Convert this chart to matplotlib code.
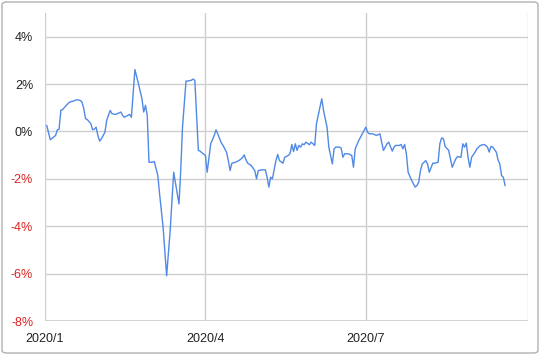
import matplotlib
matplotlib.use('Agg')
import matplotlib.pyplot as plt
from matplotlib.patches import FancyBboxPatch
import pandas as pd

# days after 2020-01-01 and daily change in %
days = [1, 3, 6, 7, 8, 9, 10, 12, 14, 16, 18, 20, 21, 22, 23, 24, 26, 27, 28, 29,
        30, 31, 32, 34, 35, 37, 38, 40, 41, 43, 44, 45, 47, 48, 49, 51,
        53, 55, 56, 57, 58, 59, 61, 62, 64, 65, 67, 69, 71, 73, 76, 77, 78, 80,
        81, 83, 84, 85, 87, 88, 89, 91, 92,
        94, 96, 97, 98, 100, 101, 103, 104, 105, 106, 108, 110, 112, 113, 114, 115,
        117, 119, 120, 121, 123, 125, 126, 127, 128, 129, 130, 131, 132, 133, 135,
        136, 138, 139,
        140, 141, 142, 143, 144, 145, 146, 147, 148, 150, 151, 153, 154, 155, 157,
        158, 160, 161, 163, 164, 165, 167, 168, 169, 170, 172, 174, 175, 176, 178,
        180, 182, 183, 184, 186, 188, 190,
        192, 194, 195, 197, 198, 199, 201, 202, 203, 204, 205, 206, 208, 210, 211,
        212, 213, 214, 216, 217, 218, 220, 221, 223, 224, 225, 226, 227, 229, 230,
        231, 233, 234, 236, 237, 238, 239, 240, 241, 242, 244, 245, 247, 249, 250,
        251, 252, 253, 254, 256, 257, 258, 259, 260, 261]
pct = [0.25, -0.35, -0.17, 0.07, 0.10, 0.90, 0.92, 1.10, 1.24, 1.28, 1.34, 1.31, 1.24, 0.96, 0.54, 0.50, 0.33, 0.07, 0.10, 0.18,
       -0.17, -0.41, -0.31, -0.03, 0.47, 0.89, 0.75, 0.72, 0.75, 0.82, 0.68, 0.60, 0.68, 0.72, 0.60, 2.61,
       2.02, 1.38, 0.82, 1.10, 0.68, -1.30, -1.30, -1.27, -1.86, -2.63, -4.05, -6.09, -4.19, -1.72, -3.06, -1.65, 0.18, 2.13,
       2.13, 2.16, 2.21, 2.16, -0.80, -0.83, -0.90, -1.01, -1.72,
       -0.52, -0.17, 0.07, -0.10, -0.48, -0.59, -0.88, -1.23, -1.65, -1.34, -1.30, -1.23, -1.11, -0.99, -1.20, -1.34,
       -1.44, -1.65, -2.00, -1.65, -1.62, -1.62, -1.93, -2.35, -1.93, -2.00, -1.62, -1.23, -0.97, -1.23, -1.34,
       -1.09, -1.01, -0.94,
       -0.55, -0.85, -0.52, -0.80, -0.59, -0.66, -0.52, -0.56, -0.45, -0.56, -0.45, -0.59, 0.33, 0.68, 1.38,
       0.89, 0.18, -0.66, -1.37, -0.73, -0.66, -0.66, -0.70, -1.09, -0.94, -0.94, -1.01, -1.51, -0.73, -0.38,
       -0.10, 0.18, -0.03, -0.10, -0.10, -0.17, -0.10,
       -0.80, -0.52, -0.45, -0.83, -0.66, -0.59, -0.59, -0.55, -0.73, -0.55, -0.94, -1.72, -2.07, -2.35, -2.28,
       -2.14, -1.65, -1.37, -1.23, -1.37, -1.72, -1.34, -1.34, -1.30, -0.52, -0.27, -0.31, -0.63, -0.80, -1.16,
       -1.51, -1.16, -1.06, -1.09, -0.52, -0.66, -0.49, -1.09, -1.51, -1.09, -0.87, -0.73, -0.59, -0.55, -0.59,
       -0.66, -0.87, -0.63, -0.66, -0.87, -1.20, -1.37, -1.86, -1.93, -2.28]

yticks = [-8, -6, -4, -2, 0, 2, 4]
xticks = ['2020-01-01', '2020-04-01', '2020-07-01', '2020-10-01']
xlabels = ['2020/1', '2020/4', '2020/7', '']

dates = pd.Timestamp('2020-01-01') + pd.to_timedelta(days, unit='D')

plt.rcParams['font.family'] = ['Liberation Sans', 'DejaVu Sans']

fig = plt.figure(figsize=(5.4, 3.55), dpi=100)
ax = fig.add_axes([45/540, 34/355, 483/540, 308/355])

ax.plot(dates, pct, color='#5089e6', lw=1.0, zorder=3)

ax.set_xlim(pd.Timestamp('2020-01-01'), pd.Timestamp('2020-10-01'))
ax.set_ylim(-8, 5)

ax.set_yticks(yticks)
ax.set_yticklabels(['%d%%' % v for v in yticks])
for lab, v in zip(ax.get_yticklabels(), yticks):
    lab.set_color('#dd2222' if v < 0 else '#222222')

ax.set_xticks(pd.to_datetime(xticks))
ax.set_xticklabels(xlabels)

ax.tick_params(length=0, labelsize=9)
ax.tick_params(axis='y', pad=8.5)
ax.tick_params(axis='x', pad=8.5, colors='#222222')

ax.grid(True, color='#cfcfcf', lw=1.0)
ax.axhline(-8, color='#cfcfcf', lw=2.0, zorder=2)
for s in ax.spines.values():
    s.set_visible(False)

fig.patches.append(FancyBboxPatch((2/540, 2/355), 536/540, 351/355,
                                  boxstyle='round,pad=0,rounding_size=0.008',
                                  transform=fig.transFigure, fill=False,
                                  edgecolor='#b0b0b0', lw=1.0))

fig.savefig('out.png', dpi=100)
